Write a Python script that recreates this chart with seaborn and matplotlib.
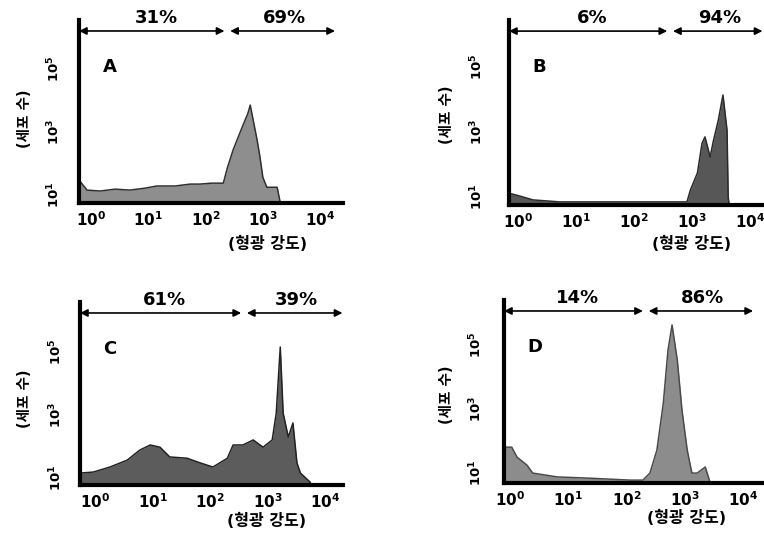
import numpy as np
import pandas as pd
import matplotlib
matplotlib.use("Agg")
import matplotlib.pyplot as plt
import seaborn as sns

sns.set_style("white")
plt.rcParams['font.family'] = ['DejaVu Sans', 'Noto Sans CJK KR']
plt.rcParams['text.color'] = 'black'
plt.rcParams['axes.labelcolor'] = 'black'
plt.rcParams['xtick.color'] = 'black'
plt.rcParams['ytick.color'] = 'black'

# Histogram outlines: log10(fluorescence), log10(cell count)
a_logx = [-0.21, -0.21, -0.07, 0.16, 0.42, 0.68, 0.94, 1.15, 1.47, 1.73, 1.90, 2.11, 2.31,
          2.38, 2.48, 2.64, 2.74, 2.78, 2.90, 2.95, 3.00, 3.07, 3.25, 3.39, 4.40]
a_logy = [0.0, 1.48, 1.16, 1.13, 1.19, 1.16, 1.22, 1.29, 1.29, 1.35, 1.35, 1.38, 1.38,
          1.86, 2.43, 3.16, 3.60, 3.86, 2.75, 2.21, 1.57, 1.25, 1.25, 0.0, 0.0]

b_logx = [-0.16, -0.16, 0.03, 0.26, 0.72, 2.91, 2.97, 3.09, 3.17, 3.22, 3.31, 3.36,
          3.45, 3.53, 3.60, 3.62, 3.69, 4.34]
b_logy = [0.0, 1.12, 1.03, 0.91, 0.85, 0.85, 1.22, 1.74, 2.66, 2.85, 2.23, 2.69,
          3.37, 4.14, 3.06, 1.00, 0.0, 0.0]

c_logx = [-0.26, -0.26, -0.03, 0.26, 0.56, 0.78, 0.96, 1.13, 1.30, 1.60, 1.83, 2.05,
          2.30, 2.40, 2.57, 2.75, 2.92, 3.08, 3.15, 3.22, 3.27, 3.36, 3.44, 3.51,
          3.57, 3.74, 3.86, 4.31]
c_logy = [0.0, 1.16, 1.19, 1.35, 1.57, 1.89, 2.05, 1.98, 1.67, 1.63, 1.48, 1.35,
          1.63, 2.05, 2.05, 2.21, 1.98, 2.21, 3.06, 5.16, 3.06, 2.30, 2.75, 1.48,
          1.16, 0.87, 0.0, 0.0]

d_logx = [-0.10, -0.10, 0.03, 0.12, 0.29, 0.39, 0.81, 1.37, 2.06, 2.28, 2.40, 2.52,
          2.63, 2.71, 2.78, 2.87, 2.95, 3.04, 3.12, 3.21, 3.35, 3.43, 3.46, 4.46]
d_logy = [0.0, 1.81, 1.81, 1.50, 1.25, 1.00, 0.88, 0.84, 0.78, 0.78, 1.00, 1.72,
          3.19, 4.84, 5.63, 4.53, 2.97, 1.72, 1.00, 1.00, 1.19, 0.72, 0.0, 0.0]

letters = ['A', 'B', 'C', 'D']
pct_low = ['31%', '6%', '61%', '14%']
pct_high = ['69%', '94%', '39%', '86%']
gate_log = [2.38, 2.62, 2.59, 2.33]   # gate between the two regions (log10)
gate_end = [4.26, 4.21, 4.30, 4.17]   # right end of upper region (log10)

xtick_labels = [r'$\mathbf{10^{0}}$', r'$\mathbf{10^{1}}$', r'$\mathbf{10^{2}}$',
                r'$\mathbf{10^{3}}$', r'$\mathbf{10^{4}}$']
ytick_labels = [r'$\mathbf{10^{1}}$', r'$\mathbf{10^{3}}$', r'$\mathbf{10^{5}}$']

W, H = 764, 533
fig = plt.figure(figsize=(W / 100, H / 100), dpi=100)

# pixel boxes: left, right, top, bottom ; axis limits in log10
panels = [
    dict(box=(79, 343, 20, 203), xl=(-0.21, 4.40), yl=(0.75, 6.56), data=(a_logx, a_logy),
         face='#8e8e8e', edge='#303030', ypad=12, ylab=(-0.205, 0.46), xlab=(0.716, -0.225)),
    dict(box=(509, 770, 20, 205), xl=(-0.155, 4.34), yl=(0.754, 6.45), data=(b_logx, b_logy),
         face='#575757', edge='#2a2a2a', ypad=17, ylab=(-0.24, 0.49), xlab=(0.70, -0.21)),
    dict(box=(80, 343, 302, 485), xl=(-0.26, 4.31), yl=(0.78, 6.59), data=(c_logx, c_logy),
         face='#5c5c5c', edge='#222222', ypad=11, ylab=(-0.21, 0.47), xlab=(0.71, -0.195)),
    dict(box=(504, 770, 300, 483), xl=(-0.103, 4.46), yl=(0.69, 6.41), data=(d_logx, d_logy),
         face='#8c8c8c', edge='#4a4a4a', ypad=14, ylab=(-0.215, 0.48), xlab=(0.686, -0.19)),
]

for i, p in enumerate(panels):
    l, r, t, b = p['box']
    ax = fig.add_axes([l / W, 1 - b / H, (r - l) / W, (b - t) / H])
    ax.set_xscale('log')
    ax.set_yscale('log')

    lx, ly = p['data']
    df = pd.DataFrame({'fl': 10 ** np.array(lx), 'count': 10 ** np.array(ly)})
    ax.fill_between(df['fl'], df['count'], 0.1, color=p['face'], lw=0)
    sns.lineplot(data=df, x='fl', y='count', ax=ax, color=p['edge'], lw=1.1,
                 sort=False, estimator=None)

    ax.set_xlim(10 ** p['xl'][0], 10 ** p['xl'][1])
    ax.set_ylim(10 ** p['yl'][0], 10 ** p['yl'][1])
    ax.minorticks_off()

    ax.set_xticks([1, 10, 100, 1000, 10000])
    ax.set_xticklabels(xtick_labels, fontsize=11)
    ax.set_yticks([10, 1000, 100000])
    ax.set_yticklabels(ytick_labels, fontsize=9.5, rotation=90, va='center')
    ax.tick_params(axis='x', length=0, pad=5)
    ax.tick_params(axis='y', length=0, pad=p['ypad'])

    ax.set_xlabel('(형광 강도)', fontsize=11.5, fontweight='bold')
    ax.xaxis.set_label_coords(*p['xlab'])
    ax.xaxis.label.set_va('center')
    ax.set_ylabel('(세포 수)', fontsize=10.5, fontweight='bold')
    ax.yaxis.set_label_coords(*p['ylab'])
    ax.yaxis.label.set_va('center')

    sns.despine(ax=ax, top=True, right=True)
    for s in ['left', 'bottom']:
        ax.spines[s].set_linewidth(3)
        ax.spines[s].set_color('black')

    # panel letter
    ax.text(0.115, 0.745, letters[i], transform=ax.transAxes, fontsize=13,
            fontweight='bold', ha='center', va='center')

    # gate arrows and percentages
    tr = ax.get_xaxis_transform()
    lo, g, hi = p['xl'][0], gate_log[i], gate_end[i]
    gap = 0.05
    arrow = dict(arrowstyle='<|-|>', color='black', lw=1.2, mutation_scale=11,
                 shrinkA=0, shrinkB=0)
    ax.annotate('', xy=(10 ** (g - gap), 0.94), xytext=(10 ** lo, 0.94),
                xycoords=tr, textcoords=tr, arrowprops=arrow, annotation_clip=False)
    ax.annotate('', xy=(10 ** hi, 0.94), xytext=(10 ** (g + gap), 0.94),
                xycoords=tr, textcoords=tr, arrowprops=arrow, annotation_clip=False)
    ax.text(10 ** ((lo + g) / 2 + 0.05), 1.01, pct_low[i], transform=tr, fontsize=13,
            fontweight='bold', ha='center', va='center')
    ax.text(10 ** ((g + hi) / 2 + 0.05), 1.01, pct_high[i], transform=tr, fontsize=13,
            fontweight='bold', ha='center', va='center')

plt.savefig('out.png', dpi=100)
